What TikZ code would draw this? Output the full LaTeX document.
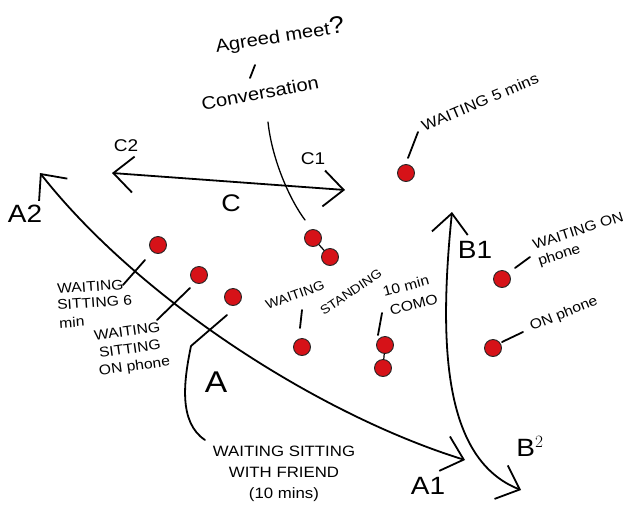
\documentclass[tikz,border=0pt]{standalone}
\usepackage{fontspec}
\setmainfont{Liberation Sans}[FakeStretch=1.12]
\usetikzlibrary{arrows.meta}
\definecolor{dotred}{RGB}{214,18,24}
\begin{document}
\begin{tikzpicture}[x=1pt,y=-1pt,
  pen/.style={line width=1.8pt, line cap=round, line join=round},
  barbs/.style={{Straight Barb[length=20pt,width=36pt,line width=1.8pt]}-{Straight Barb[length=20pt,width=36pt,line width=1.8pt]}},
  dot/.style={circle, fill=dotred, draw=black!85, line width=0.9pt, minimum size=17pt, inner sep=0pt},
  lbl/.style={font=\fontsize{14}{17}\selectfont, inner sep=0pt},
  big/.style={font=\fontsize{18}{20}\selectfont, inner sep=0pt},
  axis/.style={font=\fontsize{25}{26}\selectfont, inner sep=0pt}]
\useasboundingbox (0,0) rectangle (637,512);

% texts
\node[big, rotate=9] (agreed) at (280,36) {Agreed meet\fontsize{24}{24}\selectfont ?};
\node[big, rotate=11] (conv) at (260,93) {Conversation};
\node[lbl, rotate=23, font=\fontsize{15}{17}\selectfont] (wait5) at (480,102) {WAITING 5 mins};
\node[lbl, font=\fontsize{17}{17}\selectfont] (lC2) at (126,146) {C2};
\node[lbl, font=\fontsize{17}{17}\selectfont] (lC1) at (313,159) {C1};
\node[axis, font=\fontsize{24}{24}\selectfont] (lC) at (231,203) {C};
\node[axis] (lA2) at (25,214) {A2};
\node[axis] (lA1) at (428,486) {A1};
\node[axis, font=\fontsize{30}{30}\selectfont] (lA) at (216,382) {A};
\node[axis] (lB1) at (475,250) {B1};
\node[axis] (lB2) at (530,446) {B$^2$};
% left labels, one node per line
\node[lbl, rotate=4, anchor=west] (lL1a) at (57,289) {WAITING};
\node[lbl, rotate=4, anchor=west] (lL1b) at (57,305) {SITTING 6};
\node[lbl, rotate=4, anchor=west] (lL1c) at (59,323) {min};
\node[lbl, rotate=8, anchor=west] (lL2a) at (94,336) {WAITING};
\node[lbl, rotate=8, anchor=west] (lL2b) at (99,353) {SITTING};
\node[lbl, rotate=8, anchor=west] (lL2c) at (99,372) {ON phone};
\node[lbl, align=center, font=\fontsize{15}{21}\selectfont] (lFr) at (284,474) {WAITING SITTING\\WITH FRIEND\\(10 mins)};
\node[lbl, rotate=20, font=\fontsize{13}{15}\selectfont] (lSt1) at (295,295) {WAITING};
\node[lbl, rotate=34, font=\fontsize{12.5}{15}\selectfont] (lSt2) at (351,292) {STANDING};
\node[lbl, rotate=15, anchor=west] (lCo1) at (383,292) {10 min};
\node[lbl, rotate=15, anchor=west] (lCo2) at (390,311) {COMO};
\node[lbl, rotate=18, align=left] (lP1) at (581,240) {WAITING ON\\phone};
\node[lbl, rotate=22] (lP2) at (564,314) {ON phone};

% dots
\node[dot] (d5) at (406,173) {};
\node[dot] (dL1) at (158,245) {};
\node[dot] (dL2) at (199,275) {};
\node[dot] (dL3) at (233,297) {};
\node[dot] (dC1) at (313,238) {};
\node[dot] (dC2) at (330,257) {};
\node[dot] (dS) at (302,347) {};
\node[dot] (dM1) at (385,345) {};
\node[dot] (dM2) at (383,368) {};
\node[dot] (dP1) at (502,279) {};
\node[dot] (dP2) at (493,348) {};

% arrow end points
\coordinate (C2tip) at (112,173);
\coordinate (C1tip) at (345,190);
\coordinate (A2tip) at (40,173);
\coordinate (A1tip) at (465,460);
\coordinate (B1tip) at (452,212);
\coordinate (B2tip) at (521,490);

% axes
\draw[pen, barbs] (C2tip) -- (C1tip);
\draw[pen, barbs] (A2tip) .. controls (140,300) and (320,415) .. (A1tip);
\draw[pen, barbs] (B1tip) .. controls (438,350) and (445,460) .. (B2tip);

% leader end points
\coordinate (s1) at (255,65); \coordinate (s2) at (250,78);
\coordinate (cv1) at (268,122); \coordinate (cv2) at (305,220);
\coordinate (w1) at (408,158); \coordinate (w2) at (418,132);
\coordinate (l1a) at (145,260); \coordinate (l1b) at (123,285);
\coordinate (l2a) at (190,288); \coordinate (l2b) at (157,320);
\coordinate (l3a) at (227,315); \coordinate (l3b) at (191,346); \coordinate (l3c) at (205,440);
\coordinate (sa) at (302,310); \coordinate (sb) at (300,328);
\coordinate (ma) at (382,313); \coordinate (mb) at (378,335);
\coordinate (pa) at (515,268); \coordinate (pb) at (530,257);
\coordinate (qa) at (502,342); \coordinate (qb) at (523,332);

% leaders
\draw[pen] (s1) -- (s2);
\draw[pen, line width=1.3pt] (cv1) .. controls (272,160) and (290,200) .. (cv2);
\draw[pen] (w1) -- (w2);
\draw[pen] (l1a) -- (l1b);
\draw[pen] (l2a) -- (l2b);
\draw[pen] (l3a) -- (l3b) .. controls (184,380) and (178,422) .. (l3c);
\draw[pen] (sa) -- (sb);
\draw[pen] (ma) -- (mb);
\draw[pen] (pa) -- (pb);
\draw[pen] (qa) -- (qb);
\draw[pen, line width=1.2pt] (dM1) -- (dM2);
\draw[pen, line width=1.2pt] (dC1) -- (dC2);
\end{tikzpicture}
\end{document}
